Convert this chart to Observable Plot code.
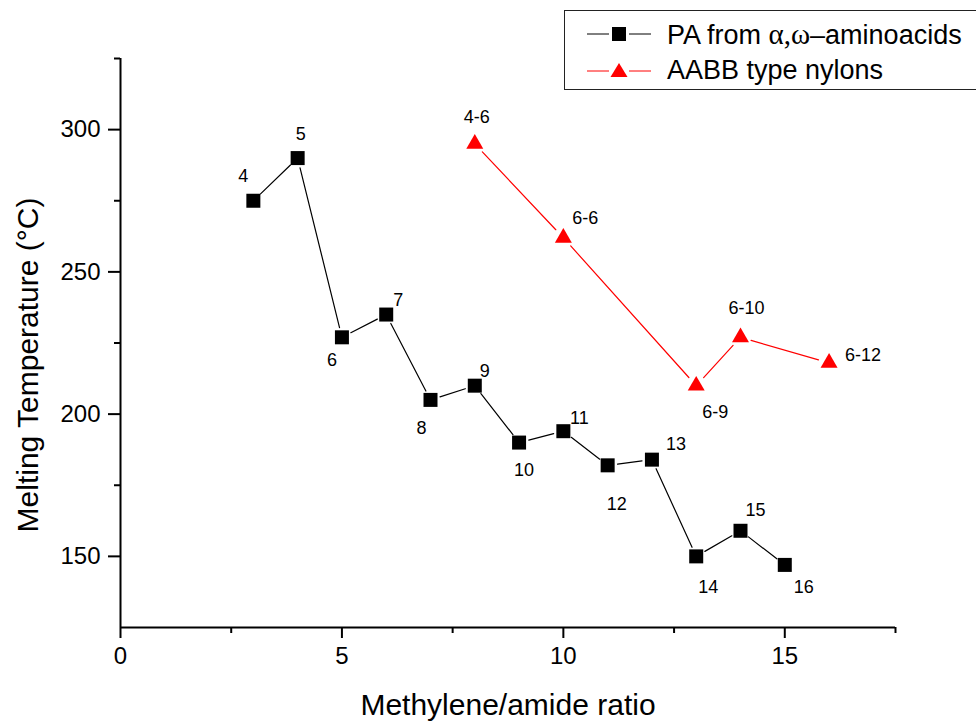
<!DOCTYPE html>
<html><head><meta charset="utf-8">
<script src="https://cdn.jsdelivr.net/npm/d3@7"></script>
<script src="https://cdn.jsdelivr.net/npm/@observablehq/plot@0.6"></script>
<style>
html,body{margin:0;padding:0;background:#fff;overflow:hidden;}
#wrap{position:relative;width:976px;height:722px;font-family:"Liberation Sans",Arial,sans-serif;}
#legend{position:absolute;left:564px;top:10px;width:440px;height:78px;border:1.5px solid #222;background:#fff;}
#legend .row{position:absolute;left:0;height:36px;display:flex;align-items:center;font-size:27px;color:#000;white-space:nowrap;}
#legend svg{margin-left:22px;margin-right:16px;}
.serif{font-family:"Liberation Serif","Times New Roman",serif;font-size:29px;}
</style></head>
<body><div id="wrap"><div id="chart"></div>
<div id="legend">
  <div class="row" style="top:5px"><svg width="64" height="20"><line x1="0" y1="10" x2="22" y2="10" stroke="#000" stroke-width="1"/><line x1="42" y1="10" x2="64" y2="10" stroke="#000" stroke-width="1"/><rect x="25" y="3" width="14" height="14" fill="#000"/></svg><span>PA from <span class="serif">α,ω</span>–aminoacids</span></div>
  <div class="row" style="top:41px"><svg width="64" height="20"><line x1="0" y1="11" x2="22" y2="11" stroke="#ff0000" stroke-width="1"/><line x1="42" y1="11" x2="64" y2="11" stroke="#ff0000" stroke-width="1"/><path d="M32,3 L40.5,17 L23.5,17 Z" fill="#ff0000"/></svg><span>AABB type nylons</span></div>
</div></div>
<script>
// Data
const paX = [3, 4, 5, 6, 7, 8, 9, 10, 11, 12, 13, 14, 15];
const paTm = [275, 290, 227, 235, 205, 210, 190, 194, 182, 184, 150, 159, 147];
const paLabels = ["4", "5", "6", "7", "8", "9", "10", "11", "12", "13", "14", "15", "16"];
const aabbX = [8, 10, 13, 14, 16];
const aabbTm = [295, 262, 210, 227, 218];
const aabbLabels = ["4-6", "6-6", "6-9", "6-10", "6-12"];
const xMajorTicks = [0, 5, 10, 15];
const xMinorTicks = [2.5, 7.5, 12.5, 17.5];
const yMajorTicks = [150, 200, 250, 300];
const yMinorTicks = [175, 225, 275, 325];

// Label nudges (pixels)
const paLabelDx = [-10, 3, -10, 12, -9, 10, 5, 16, 9, 24, 12, 15, 19];
const paLabelDy = [-25, -24, 23, -14, 28, -14, 28, -13, 39, -15, 31, -21, 22];
const aabbLabelDx = [2, 22, 19, 6, 34];
const aabbLabelDy = [-27, -20, 27, -29, -8];

const pa = paX.map((x, i) => ({x, y: paTm[i], label: paLabels[i]}));
const aabb = aabbX.map((x, i) => ({x, y: aabbTm[i], label: aabbLabels[i]}));
const segs = arr => d3.pairs(arr).map(([a, b]) => ({x1: a.x, y1: a.y, x2: b.x, y2: b.y}));

const labelMarks = (data, dxs, dys) => data.map((d, i) => Plot.text([d], {
  x: "x", y: "y", text: "label", dx: dxs[i], dy: dys[i], fontSize: 18, fill: "#000",
  textAnchor: "middle", lineAnchor: "middle"
}));

const chart = Plot.plot({
  width: 976, height: 722,
  marginLeft: 120, marginRight: 81, marginTop: 58, marginBottom: 95,
  x: {domain: [0, 17.5]},
  y: {domain: [125, 325]},
  style: {fontFamily: "'Liberation Sans', Arial, sans-serif", color: "#000", background: "transparent"},
  marks: [
    Plot.axisX({ticks: xMajorTicks, tickSize: 11, tickPadding: 8, fontSize: 24, strokeWidth: 2, label: null, tickFormat: d => String(d)}),
    Plot.axisX({ticks: xMinorTicks, tickSize: 6, strokeWidth: 2, label: null, tickFormat: () => ""}),
    Plot.axisY({ticks: yMajorTicks, tickSize: 12, tickPadding: 8, fontSize: 24, strokeWidth: 2, label: null, tickFormat: d => String(d)}),
    Plot.axisY({ticks: yMinorTicks, tickSize: 6, strokeWidth: 2, label: null, tickFormat: () => ""}),
    Plot.ruleX([0], {stroke: "#000", strokeWidth: 2}),
    Plot.ruleY([125], {stroke: "#000", strokeWidth: 2}),
    Plot.arrow(segs(pa), {x1: "x1", y1: "y1", x2: "x2", y2: "y2", headLength: 0, insetStart: 10, insetEnd: 10, stroke: "#000", strokeWidth: 1.2}),
    Plot.arrow(segs(aabb), {x1: "x1", y1: "y1", x2: "x2", y2: "y2", headLength: 0, insetStart: 11, insetEnd: 11, stroke: "#ff0000", strokeWidth: 1.2}),
    Plot.dot(pa, {x: "x", y: "y", symbol: "square", r: 7.9, fill: "#000", stroke: "none"}),
    Plot.dot(aabb, {x: "x", y: "y", symbol: "triangle", r: 6.3, fill: "#ff0000", stroke: "none"}),
    ...labelMarks(pa, paLabelDx, paLabelDy),
    ...labelMarks(aabb, aabbLabelDx, aabbLabelDy),
    Plot.text(["Methylene/amide ratio"], {frameAnchor: "bottom", text: d => d, dy: 78, fontSize: 30, fill: "#000", lineAnchor: "middle"}),
    Plot.text(["Melting Temperature (°C)"], {frameAnchor: "left", text: d => d, dx: -92, dy: 22, rotate: -90, fontSize: 30, fill: "#000", textAnchor: "middle", lineAnchor: "middle"})
  ]
});
document.getElementById("chart").appendChild(chart);
</script>
</body></html>
